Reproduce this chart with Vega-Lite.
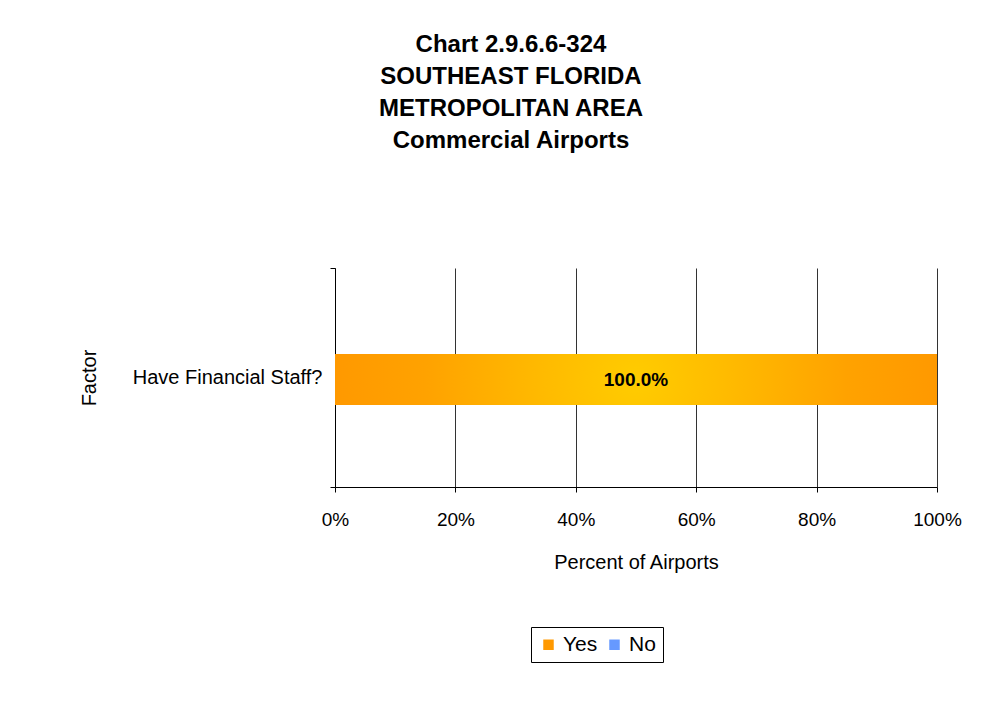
{
  "$schema": "https://vega.github.io/schema/vega-lite/v6.json",
  "width": 602,
  "height": 219,
  "autosize": {"type": "none"},
  "padding": {"left": 335, "top": 268, "right": 66, "bottom": 230},
  "background": "white",
  "config": {
    "font": "Liberation Sans",
    "view": {"stroke": null}
  },
  "title": {
    "text": ["Chart 2.9.6.6-324", "SOUTHEAST FLORIDA", "METROPOLITAN AREA", "Commercial Airports"],
    "font": "Liberation Sans",
    "fontSize": 24,
    "fontWeight": "bold",
    "lineHeight": 32,
    "anchor": "middle",
    "frame": "group",
    "dx": -125,
    "offset": 105,
    "color": "black"
  },
  "data": {
    "values": [
      {"Factor": "Have Financial Staff?", "Response": "Yes", "Percent": 1.0},
      {"Factor": "Have Financial Staff?", "Response": "No", "Percent": 0.0}
    ]
  },
  "encoding": {
    "y": {
      "field": "Factor",
      "type": "nominal",
      "scale": {"paddingInner": 0, "paddingOuter": 0},
      "axis": {
        "title": "Factor",
        "titleFont": "Liberation Sans",
        "titleFontSize": 20,
        "titleFontWeight": "normal",
        "titleColor": "black",
        "titlePadding": 36,
        "labelFont": "Liberation Sans",
        "labelFontSize": 20,
        "labelColor": "black",
        "labelPadding": 8,
        "labelLimit": 0,
        "tickBand": "extent",
        "tickSize": 5,
        "tickColor": "black",
        "domainColor": "black",
        "grid": false
      }
    }
  },
  "layer": [
    {
      "mark": {"type": "bar", "size": 51, "yOffset": 2},
      "encoding": {
        "x": {
          "field": "Percent",
          "type": "quantitative",
          "stack": "zero",
          "scale": {"domain": [0, 1], "nice": false},
          "axis": {
            "title": "Percent of Airports",
            "titleFont": "Liberation Sans",
            "titleFontSize": 20,
            "titleFontWeight": "normal",
            "titleColor": "black",
            "titlePadding": 23,
            "format": ".0%",
            "values": [0, 0.2, 0.4, 0.6, 0.8, 1.0],
            "labelFont": "Liberation Sans",
            "labelFontSize": 19,
            "labelColor": "black",
            "labelPadding": 18,
            "labelFlush": false,
            "tickSize": 5,
            "tickColor": "black",
            "domainColor": "black",
            "grid": true,
            "gridColor": "#333333",
            "gridOpacity": 1
          }
        },
        "color": {
          "field": "Response",
          "type": "nominal",
          "scale": {"domain": ["Yes", "No"], "range": ["#FF9900", "#6699FF"]},
          "legend": {
            "title": null,
            "orient": "none",
            "legendX": 196,
            "legendY": 359,
            "direction": "horizontal",
            "symbolType": "square",
            "symbolSize": 110,
            "symbolStrokeWidth": 0,
            "labelFont": "Liberation Sans",
            "labelFontSize": 21,
            "labelColor": "black",
            "labelOffset": 4,
            "columnPadding": 6,
            "padding": 7,
            "strokeColor": "black",
            "fillColor": "white"
          }
        }
      }
    },
    {
      "transform": [{"filter": "datum.Response === 'Yes'"}],
      "mark": {
        "type": "bar",
        "size": 51,
        "yOffset": 2,
        "fill": {
          "gradient": "radial",
          "x1": 0.5, "y1": 0.5, "r1": 0,
          "x2": 0.5, "y2": 0.5, "r2": 0.5,
          "stops": [
            {"offset": 0, "color": "#FFCC00"},
            {"offset": 0.3, "color": "#FFBB00"},
            {"offset": 0.7, "color": "#FFA200"},
            {"offset": 1, "color": "#FF9900"}
          ]
        }
      },
      "encoding": {
        "x": {"field": "Percent", "type": "quantitative", "stack": "zero"}
      }
    },
    {
      "transform": [{"filter": "datum.Response === 'Yes'"}],
      "mark": {"type": "text", "font": "Liberation Sans", "fontSize": 19, "fontWeight": "bold", "color": "black", "align": "center", "baseline": "middle", "dy": 2},
      "encoding": {
        "x": {"datum": 0.5, "type": "quantitative"},
        "text": {"field": "Percent", "type": "quantitative", "format": ".1%"}
      }
    }
  ]
}
